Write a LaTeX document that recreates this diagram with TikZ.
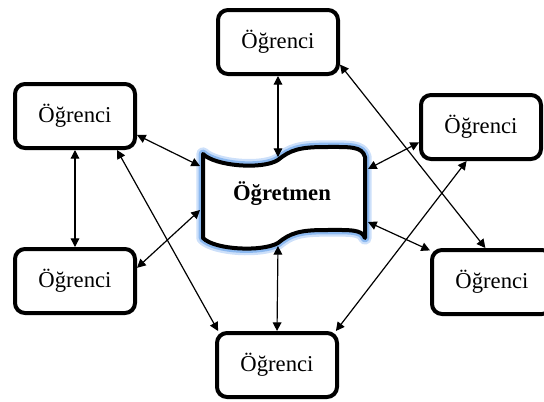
\documentclass[tikz,border=0pt]{standalone}
\usepackage{fontspec}
\setmainfont{Liberation Serif}
\usetikzlibrary{arrows.meta}
\definecolor{glowA}{RGB}{205,224,250}
\definecolor{glowB}{RGB}{140,185,240}
\tikzset{
  studentbox/.style={draw=black, line width=3pt, rounded corners=7.5pt, fill=white,
    minimum width=90pt, minimum height=48pt, inner sep=0pt,
    font=\fontsize{17}{20}\selectfont},
  link/.style={line width=0.9pt, {Triangle[length=6.5pt,width=6.5pt]}-{Triangle[length=6.5pt,width=6.5pt]}},
}
\begin{document}
\begin{tikzpicture}[x=0.75pt, y=-0.75pt]
\useasboundingbox (0,0) rectangle (544,401);
\clip (0,0) rectangle (544,401);
% banner (teacher)
\def\bannerpath{(203,154) .. controls (215,166) and (262,170) .. (278,160)
  .. controls (290,150) and (300,147) .. (325,147)
  .. controls (350,147) and (362,146) .. (365,157) -- (365,238)
  .. controls (362,229) and (350,230) .. (325,230)
  .. controls (300,230) and (290,233) .. (278,243)
  .. controls (262,252) and (215,250) .. (203,238) -- cycle}
\draw[glowA, line width=10pt, line join=round] \bannerpath;
\draw[glowB, line width=6.5pt, line join=round] \bannerpath;
\fill[white] \bannerpath;
\draw[black, line width=3pt, line join=round] \bannerpath;
\node[font=\fontsize{17}{20}\selectfont\bfseries] (M) at (282,194) {Öğretmen};
\coordinate (ct) at (278,157);
\coordinate (cb) at (278,246);
\coordinate (cl1) at (200,166);
\coordinate (cl2) at (200,210);
\coordinate (cr1) at (368,169);
\coordinate (cr2) at (368,222);
% students
\node[studentbox] (T)  at (278,42)  {Öğrenci};
\node[studentbox] (B)  at (277,365) {Öğrenci};
\node[studentbox] (LT) at (75,116)  {Öğrenci};
\node[studentbox] (LB) at (75,281)  {Öğrenci};
\node[studentbox] (RT) at (481,127) {Öğrenci};
\node[studentbox] (RB) at (492,282) {Öğrenci};
% connectors
\draw[link] (T.south) -- (ct);
\draw[link] (B.north) -- (cb);
\draw[link] (LT.south) -- (LB.north);
\draw[link] (LT.-17) -- (cl1);
\draw[link] (LB.12) -- (cl2);
\draw[link] (LT.-39) -- (B.150);
\draw[link] (T.-20) -- (RB.101);
\draw[link] (RT.-166) -- (cr1);
\draw[link] (RB.153) -- (cr2);
\draw[link] (RT.247) -- (B.30);
\end{tikzpicture}
\end{document}
